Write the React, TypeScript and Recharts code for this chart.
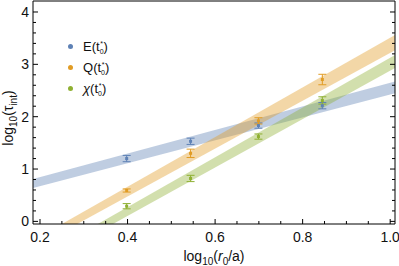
import React from "react";
import { ComposedChart, Area, Scatter, ErrorBar, XAxis, YAxis, Legend, Label } from "recharts";

const FONT = "'Liberation Sans', Arial, sans-serif";

// log10(r0/a) for r0/a = 2.5, 3.5, 5, 7
const rLog = [0.398, 0.544, 0.699, 0.845];

const eVals = [1.2, 1.53, 1.83, 2.21];
const eErr = [0.06, 0.06, 0.05, 0.06];
const qVals = [0.59, 1.3, 1.92, 2.71];
const qErr = [0.03, 0.08, 0.06, 0.1];
const chiVals = [0.29, 0.82, 1.62, 2.31];
const chiErr = [0.05, 0.06, 0.05, 0.07];

// fit bands, read at their ends
const eBandX = [0.184, 1.011];
const eBandLo = [0.64, 2.45];
const eBandHi = [0.81, 2.67];
const qBandX = [0.25, 1.011];
const qBandLo = [-0.21, 3.27];
const qBandHi = [-0.05, 3.56];
const chiBandX = [0.33, 1.011];
const chiBandLo = [-0.22, 2.93];
const chiBandHi = [-0.06, 3.18];

const xTicks = [0.2, 0.25, 0.3, 0.35, 0.4, 0.45, 0.5, 0.55, 0.6, 0.65, 0.7, 0.75, 0.8, 0.85, 0.9, 0.95, 1.0];
const xLabels: Record<string, string> = { "0.2": "0.2", "0.4": "0.4", "0.6": "0.6", "0.8": "0.8", "1": "1.0" };
const yTicks = [0, 0.2, 0.4, 0.6, 0.8, 1, 1.2, 1.4, 1.6, 1.8, 2, 2.2, 2.4, 2.6, 2.8, 3, 3.2, 3.4, 3.6, 3.8, 4];
const yLabels: Record<string, string> = { "0": "0", "1": "1", "2": "2", "3": "3", "4": "4" };

const BLUE = "#5E81B5";
const ORANGE = "#E19C24";
const GREEN = "#8FB032";

const pts = (v: number[], e: number[]) => rLog.map((x, i) => ({ x, y: v[i], err: e[i] }));
const band = (xs: number[], lo: number[], hi: number[]) => xs.map((x, i) => ({ x, lo: lo[i], hi: hi[i] }));

const series = [
  { name: "E", italic: false, color: BLUE, data: pts(eVals, eErr), band: band(eBandX, eBandLo, eBandHi) },
  { name: "Q", italic: false, color: ORANGE, data: pts(qVals, qErr), band: band(qBandX, qBandLo, qBandHi) },
  { name: "χ", italic: true, color: GREEN, data: pts(chiVals, chiErr), band: band(chiBandX, chiBandLo, chiBandHi) },
];

const key = (v: number) => String(Math.round(v * 1000) / 1000);

const tick = (side: "bottom" | "top" | "left" | "right") => (props: any) => {
  const { x, y, payload } = props;
  const v = payload.value;
  const labels = side === "bottom" || side === "top" ? xLabels : yLabels;
  const lab = labels[key(v)];
  const len = lab ? 5 : 3;
  let line;
  if (side === "bottom") line = <line x1={x} x2={x} y1={y} y2={y - len} stroke="#000" />;
  else if (side === "top") line = <line x1={x} x2={x} y1={y} y2={y + len} stroke="#000" />;
  else if (side === "left") line = <line x1={x} x2={x + len} y1={y} y2={y} stroke="#000" />;
  else line = <line x1={x} x2={x - len} y1={y} y2={y} stroke="#000" />;
  return (
    <g>
      {line}
      {lab && side === "bottom" && (
        <text x={x} y={y + 18} textAnchor="middle" fontSize={14} fontFamily={FONT} fill="#111">{lab}</text>
      )}
      {lab && side === "left" && (
        <text x={x - 4} y={y + 5} textAnchor="end" fontSize={14} fontFamily={FONT} fill="#111">{lab}</text>
      )}
    </g>
  );
};

const XTitle = (props: any) => {
  const vb = props.viewBox;
  return (
    <text x={vb.x + vb.width / 2} y={261} textAnchor="middle" fontSize={14} fontFamily={FONT} fill="#111">
      log<tspan dy={4} fontSize={10}>10</tspan>
      <tspan dy={-4}>(</tspan>
      <tspan fontStyle="italic">r</tspan>
      <tspan dy={4} fontSize={10}>0</tspan>
      <tspan dy={-4}>/a)</tspan>
    </text>
  );
};

const YTitle = () => (
  <text x={13} y={118} transform="rotate(-90, 13, 118)" textAnchor="middle" fontSize={14} fontFamily={FONT} fill="#111">
    log<tspan dy={4} fontSize={10}>10</tspan>
    <tspan dy={-4}>(τ</tspan>
    <tspan dy={4} fontSize={10}>int</tspan>
    <tspan dy={-4}>)</tspan>
  </text>
);

const LegendBox = (props: any) => {
  const items = (props.payload || []).filter((p: any) => p.type !== "none");
  return (
    <div style={{ fontFamily: FONT, fontSize: 13, color: "#111" }}>
      {items.map((p: any) => {
        const s = series.find((q) => q.name === p.value);
        return (
          <div key={p.value} style={{ height: 21, display: "flex", alignItems: "center" }}>
            <span style={{ width: 5, height: 5, borderRadius: 3, background: p.color, marginLeft: 3.5, marginRight: 10.5 }} />
            <span style={{ fontStyle: s?.italic ? "italic" : "normal" }}>{p.value}</span>
            <span>(t</span>
            <span style={{ display: "inline-flex", flexDirection: "column", alignItems: "center", fontSize: 7, lineHeight: "8px", marginTop: 3 }}>
              <span>*</span>
              <span>0</span>
            </span>
            <span>)</span>
          </div>
        );
      })}
    </div>
  );
};

const shape = (color: string) => (props: any) => (
  <rect x={props.cx - 1.5} y={props.cy - 1.5} width={3} height={3} fill={color} />
);

export default function App() {
  return (
    <div style={{ position: "absolute", left: 0, top: 0, width: 399, height: 266, background: "#fff" }}>
      <ComposedChart width={399} height={266} margin={{ top: 0, right: 3, bottom: 41, left: 32 }}>
        <XAxis xAxisId="b" orientation="bottom" type="number" dataKey="x" domain={[0.184, 1.011]} allowDataOverflow
          ticks={xTicks} interval={0} tick={tick("bottom")} tickLine={false} tickSize={0} tickMargin={0} height={1}
          axisLine={{ stroke: "#000" }}>
          <Label content={XTitle} />
        </XAxis>
        <XAxis xAxisId="t" orientation="top" type="number" domain={[0.184, 1.011]} allowDataOverflow
          ticks={xTicks} interval={0} tick={tick("top")} tickLine={false} tickSize={0} tickMargin={0} height={1}
          axisLine={{ stroke: "#000" }} />
        <YAxis yAxisId="l" orientation="left" type="number" dataKey="y" domain={[-0.05, 4.21]} allowDataOverflow
          ticks={yTicks} interval={0} tick={tick("left")} tickLine={false} tickSize={0} tickMargin={0} width={1}
          axisLine={{ stroke: "#000" }}>
          <Label content={YTitle} />
        </YAxis>
        <YAxis yAxisId="r" orientation="right" type="number" domain={[-0.05, 4.21]} allowDataOverflow
          ticks={yTicks} interval={0} tick={tick("right")} tickLine={false} tickSize={0} tickMargin={0} width={1}
          axisLine={{ stroke: "#000" }} />
        {series.map((s) => (
          <Area key={"band" + s.name} xAxisId="b" yAxisId="l" data={s.band} type="linear"
            dataKey={(d: any) => [d.lo, d.hi]} stroke="none" fill={s.color} fillOpacity={0.4}
            legendType="none" dot={false} activeDot={false} isAnimationActive={false} />
        ))}
        {series.map((s) => (
          <Scatter key={s.name} name={s.name} xAxisId="b" yAxisId="l" data={s.data} dataKey="y"
            fill={s.color} shape={shape(s.color)} isAnimationActive={false}>
            <ErrorBar dataKey="err" direction="y" width={4} strokeWidth={1} stroke={s.color} isAnimationActive={false} />
          </Scatter>
        ))}
        <Legend layout="vertical" align="center" verticalAlign="middle" content={LegendBox}
          wrapperStyle={{ left: 64, top: 35.5, width: 90, height: 63 }} />
      </ComposedChart>
    </div>
  );
}
